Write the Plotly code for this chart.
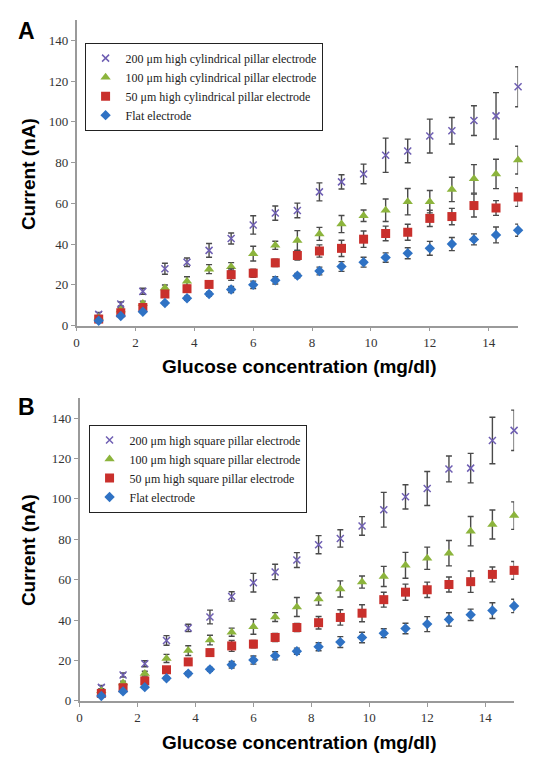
import plotly.graph_objects as go

# ---------------- data ----------------
glucose = [0.75, 1.5, 2.25, 3.0, 3.75, 4.5, 5.25, 6.0, 6.75, 7.5,
           8.25, 9.0, 9.75, 10.5, 11.25, 12.0, 12.75, 13.5, 14.25, 15.0]

# Panel A: cylindrical pillars
a_labels = ["200 μm high cylindrical pillar electrode",
            "100 μm high cylindrical pillar electrode",
            "50 μm high cylindrical pillar electrode",
            "Flat electrode"]
a200 = [5.5, 10.6, 16.8, 27.9, 31.1, 36.9, 42.7, 49.4, 55.2, 56.5, 65.6, 70.5, 74.4, 83.6, 85.7, 93.0, 95.6, 100.6, 102.9, 117.2]
a200_err = [1.0, 1.0, 1.5, 2.7, 2.1, 3.4, 2.7, 4.5, 3.5, 3.6, 4.4, 3.5, 4.8, 8.4, 5.8, 8.3, 6.5, 7.3, 11.4, 9.8]
a100 = [4.0, 7.6, 10.8, 18.4, 21.8, 27.7, 28.9, 35.3, 39.4, 41.8, 45.0, 49.8, 53.9, 56.6, 60.8, 60.8, 66.8, 72.0, 74.4, 81.2]
a100_err = [1.0, 1.0, 1.2, 1.5, 2.2, 2.2, 2.0, 3.6, 2.0, 4.8, 3.2, 4.2, 2.8, 5.5, 6.5, 5.5, 6.0, 7.0, 7.2, 6.8]
a50 = [3.2, 6.3, 8.9, 15.5, 18.1, 20.2, 25.0, 25.7, 30.8, 34.4, 36.6, 37.9, 42.4, 45.2, 45.8, 52.6, 53.5, 58.9, 57.7, 63.1]
a50_err = [1.0, 1.0, 1.2, 1.4, 1.6, 1.5, 2.8, 2.0, 1.8, 2.3, 3.0, 4.0, 4.0, 3.6, 3.9, 4.0, 4.0, 5.6, 3.6, 4.6]
aflat = [2.4, 4.7, 6.8, 11.1, 13.4, 15.5, 17.7, 20.0, 22.2, 24.5, 26.8, 29.0, 31.1, 33.4, 35.5, 37.9, 40.0, 42.3, 44.5, 46.8]
aflat_err = [0.6, 0.6, 0.6, 0.8, 1.0, 1.0, 1.5, 1.8, 1.8, 1.1, 1.9, 2.4, 2.4, 2.3, 2.7, 3.4, 3.2, 2.7, 3.9, 3.0]

# Panel B: square pillars
b_labels = ["200 μm high square pillar electrode",
            "100 μm high square pillar electrode",
            "50 μm high square pillar electrode",
            "Flat electrode"]
b200 = [6.7, 12.8, 18.4, 29.9, 36.1, 41.5, 51.7, 58.5, 63.8, 69.7, 77.3, 80.4, 86.6, 94.6, 101.0, 105.1, 114.8, 115.2, 128.9, 133.9]
b200_err = [1.0, 1.0, 1.5, 2.4, 1.8, 3.4, 2.3, 4.6, 3.8, 3.7, 4.5, 4.3, 4.6, 8.6, 6.0, 8.4, 6.4, 7.3, 11.5, 10.0]
b100 = [5.0, 8.8, 13.5, 21.0, 24.9, 30.1, 34.0, 36.7, 41.5, 46.5, 50.4, 55.4, 58.8, 61.6, 67.1, 70.6, 73.1, 84.0, 87.3, 91.7]
b100_err = [1.0, 1.0, 1.2, 2.0, 2.4, 2.4, 2.0, 3.7, 2.2, 4.7, 3.0, 4.0, 3.0, 5.0, 6.4, 5.5, 6.3, 7.3, 7.2, 6.8]
b50 = [3.7, 6.5, 9.9, 15.4, 19.3, 23.9, 27.2, 28.1, 31.4, 36.3, 38.7, 41.3, 43.4, 50.1, 53.8, 55.0, 57.6, 59.0, 62.6, 64.6]
b50_err = [1.0, 1.0, 1.0, 1.2, 1.6, 1.6, 2.7, 1.8, 2.0, 2.0, 3.1, 3.8, 4.2, 3.7, 4.0, 3.8, 3.7, 5.3, 3.7, 4.4]
bflat = [2.4, 4.7, 6.8, 11.2, 13.5, 15.6, 17.9, 20.2, 22.3, 24.6, 26.8, 29.1, 31.4, 33.5, 35.8, 38.0, 40.3, 42.6, 44.7, 47.0]
bflat_err = [0.6, 0.6, 0.6, 0.8, 1.0, 1.0, 1.6, 2.0, 2.0, 1.5, 2.0, 2.7, 2.6, 2.2, 2.6, 3.7, 3.3, 2.8, 3.9, 3.3]

x_ticks = [0, 2, 4, 6, 8, 10, 12, 14]
y_ticks = [0, 20, 40, 60, 80, 100, 120, 140]

# ---------------- geometry (page pixels -> paper) ----------------
OFF = 8            # default body margin of the html page
W, H = 527, 755    # figure size so that the page does not overflow


def px(x):
    return (x - OFF) / W


def py(y):
    return 1 - (y - OFF) / H


# ---------------- styles ----------------
symbols = ["x-thin", "triangle-up", "square", "diamond"]
colors = ["#6f5fb3", "#8cb43c", "#c9302c", "#2f72c4"]
sizes = [7, 9, 9, 8]
serif = "Liberation Serif, Times New Roman, serif"
sans = "Liberation Sans, Arial, sans-serif"

fig = go.Figure()

panels = [
    (a_labels, [a200, a100, a50, aflat], [a200_err, a100_err, a50_err, aflat_err], "x", "y", "legend"),
    (b_labels, [b200, b100, b50, bflat], [b200_err, b100_err, b50_err, bflat_err], "x2", "y2", "legend2"),
]
for labels, series, errs, xa, ya, lg in panels:
    for i in range(4):
        marker = dict(symbol=symbols[i], color=colors[i], size=sizes[i])
        if symbols[i] == "x-thin":
            marker["line"] = dict(color=colors[i], width=1.5)
        else:
            marker["line"] = dict(width=0)
        fig.add_trace(go.Scatter(
            x=glucose, y=series[i], mode="markers", name=labels[i],
            marker=marker, cliponaxis=False,
            error_y=dict(type="data", array=errs[i], visible=True,
                         color="#4a4a4a", thickness=1.4, width=3),
            xaxis=xa, yaxis=ya, legend=lg,
        ))

axis_common = dict(showline=True, linecolor="#9a9a9a", linewidth=1.5,
                   showgrid=False, zeroline=False, ticks="outside",
                   tickcolor="#9a9a9a", ticklen=4, tickwidth=1,
                   tickfont=dict(family=serif, size=13, color="#333333"))

legend_common = dict(bgcolor="white", bordercolor="#222222", borderwidth=1,
                     font=dict(family=serif, size=12, color="#222222"),
                     xanchor="left", yanchor="top", traceorder="normal")

fig.update_layout(
    width=W, height=H,
    margin=dict(l=0, r=0, t=0, b=0),
    paper_bgcolor="white", plot_bgcolor="white",
    xaxis=dict(domain=[px(74), px(518)], range=[0, 15], tickvals=x_ticks, anchor="y", **axis_common),
    yaxis=dict(domain=[py(329), py(20)], range=[0, 150], tickvals=y_ticks, anchor="x", **axis_common),
    xaxis2=dict(domain=[px(77), px(514)], range=[0, 15], tickvals=x_ticks, anchor="y2", **axis_common),
    yaxis2=dict(domain=[py(708.3), py(402)], range=[0, 150], tickvals=y_ticks, anchor="x2", **axis_common),
    legend=dict(x=px(82), y=py(43), **legend_common),
    legend2=dict(x=px(86), y=py(429), **legend_common),
    showlegend=True,
)

title_font = dict(family=sans, size=19, color="black")
annotations = [
    dict(text="<b>A</b>", x=px(24), y=py(31), font=dict(family=sans, size=23, color="black")),
    dict(text="<b>B</b>", x=px(24), y=py(411), font=dict(family=sans, size=23, color="black")),
    dict(text="<b>Glucose concentration (mg/dl)</b>", x=px(298), y=py(370), font=title_font),
    dict(text="<b>Glucose concentration (mg/dl)</b>", x=px(298), y=py(750), font=title_font),
    dict(text="<b>Current (nA)</b>", x=px(25), y=py(176), textangle=-90, font=title_font),
    dict(text="<b>Current (nA)</b>", x=px(25), y=py(556), textangle=-90, font=title_font),
]
for a in annotations:
    a.update(xref="paper", yref="paper", showarrow=False, xanchor="center", yanchor="middle")
fig.update_layout(annotations=annotations)

fig.write_html("out.html")
